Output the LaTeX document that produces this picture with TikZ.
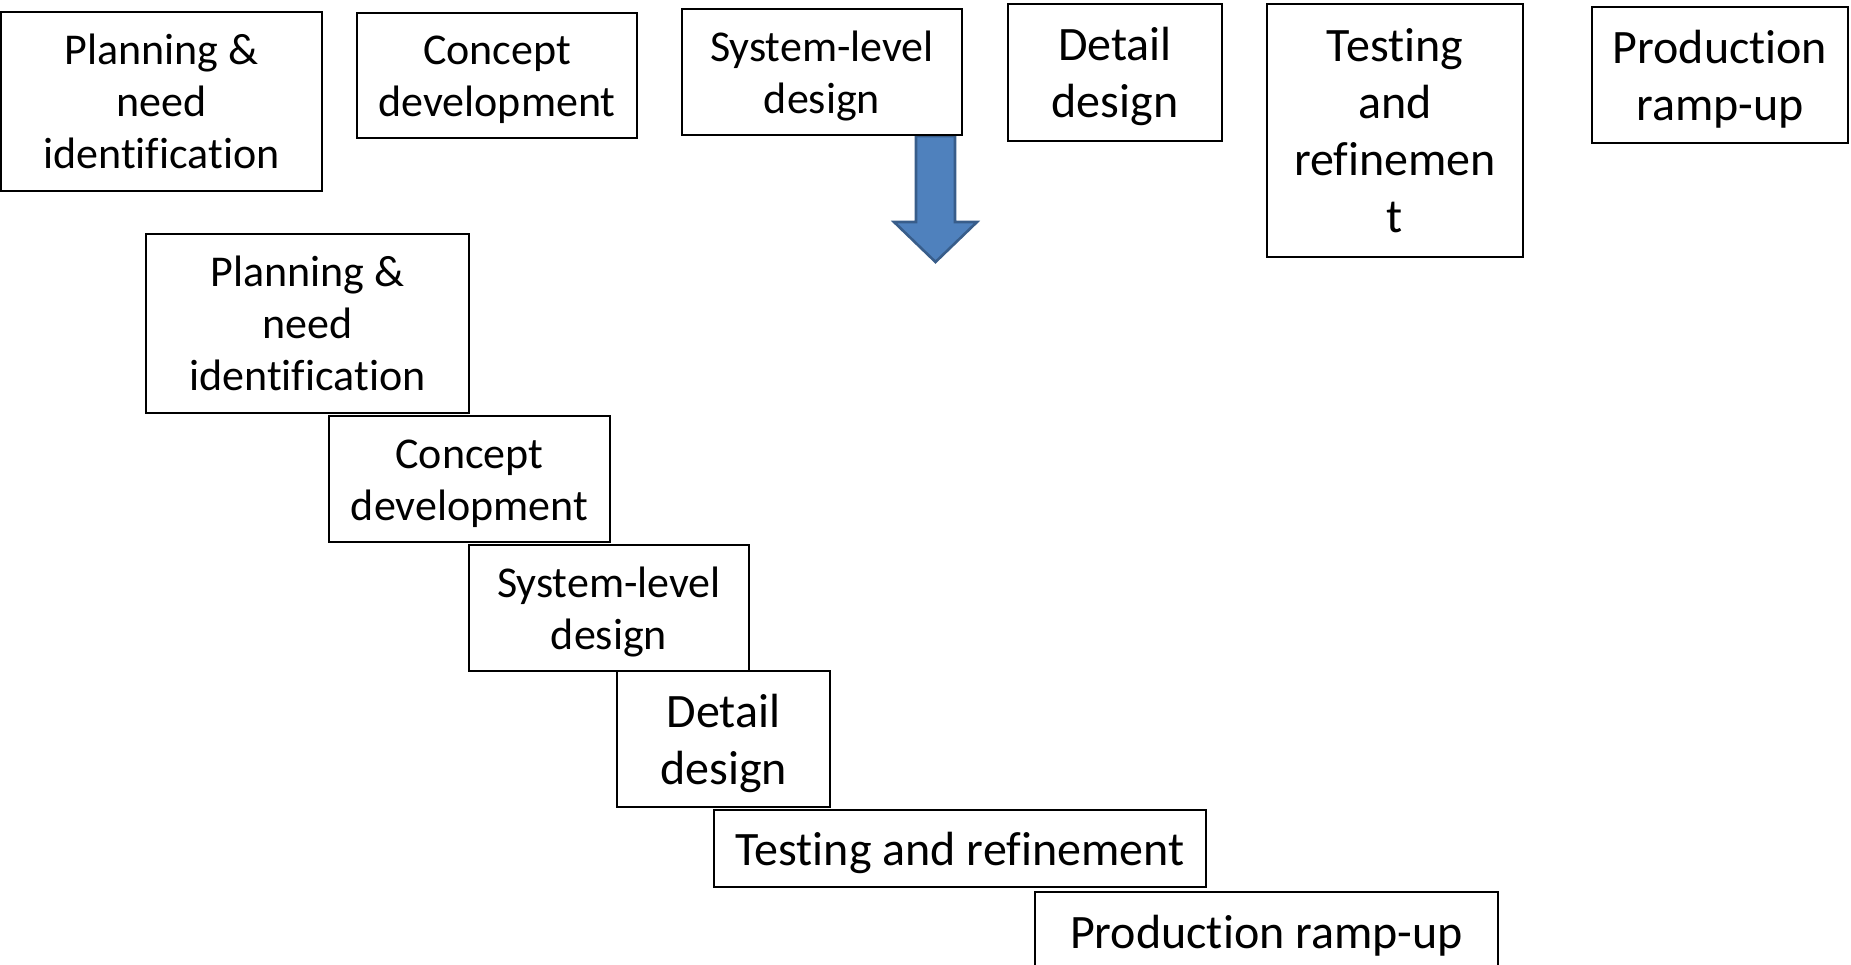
\documentclass[tikz,border=0pt]{standalone}
\usepackage{fontspec}
\setmainfont{Carlito}[Ligatures=NoCommon]
\definecolor{arrowfill}{HTML}{4F81BD}
\definecolor{arrowline}{HTML}{385D8A}
% fixed line extents so every label is centred on its baselines
\newcommand\firststrut{\rule{0pt}{1em}}
\newcommand\laststrut{\rule[-0.3em]{0pt}{0pt}}
\tikzset{
  stage/.style={draw=black, fill=white, line width=1.4pt, rectangle, inner sep=0pt,
    align=center, font=\fontsize{44}{52}\selectfont},
  bigstage/.style={stage, font=\fontsize{48}{57}\selectfont},
  blockarrow/.style={fill=arrowfill, draw=arrowline, line width=2.6pt, line join=miter}
}
\begin{document}
\begin{tikzpicture}[x=1pt, y=-1pt]
  \useasboundingbox (0,0) rectangle (1851,965);
  \begin{scope}
  \clip (0,0) rectangle (1851,965);

  % downward block arrow below the system-level stage
  \draw[blockarrow] (916,136) -- (955,136) -- (955,222) -- (977,222) -- (935.5,262)
    -- (894,222) -- (916,222) -- cycle;

  % stages side by side
  \node[stage, minimum width=321pt, minimum height=179pt] (a1) at (161.5,101.5)
    {\firststrut Planning \&\\need\\identification\laststrut};
  \node[stage, minimum width=280pt, minimum height=125pt] (a2) at (497,75.5)
    {\firststrut Concept\\development\laststrut};
  \node[stage, minimum width=280pt, minimum height=126pt] (a3) at (822,72)
    {\firststrut System-level\\design\laststrut};
  \node[bigstage, minimum width=214pt, minimum height=137pt] (a4) at (1115,72.5)
    {\firststrut Detail\\design\laststrut};
  \node[bigstage, minimum width=256pt, minimum height=253pt] (a5) at (1395,130.5)
    {\firststrut Testing\\and\\refinemen\\t\laststrut};
  \node[bigstage, minimum width=256pt, minimum height=136pt] (a6) at (1720,75)
    {\firststrut Production\\ramp-up\laststrut};

  % the same stages as a descending staircase
  \node[stage, minimum width=323pt, minimum height=179pt] (b1) at (307.5,323.5)
    {\firststrut Planning \&\\need\\identification\laststrut};
  \node[stage, minimum width=281pt, minimum height=126pt] (b2) at (469.5,479)
    {\firststrut Concept\\development\laststrut};
  \node[stage, minimum width=280pt, minimum height=126pt] (b3) at (609,608)
    {\firststrut System-level\\design\laststrut};
  \node[bigstage, minimum width=213pt, minimum height=136pt] (b4) at (723.5,739)
    {\firststrut Detail\\design\laststrut};
  \node[bigstage, minimum width=492pt, minimum height=77pt] (b5) at (960,848.5)
    {\firststrut Testing and refinement\laststrut};
  \node[bigstage, minimum width=463pt, minimum height=80pt] (b6) at (1266.5,932)
    {\firststrut Production ramp-up\laststrut};
  \end{scope}
\end{tikzpicture}
\end{document}
